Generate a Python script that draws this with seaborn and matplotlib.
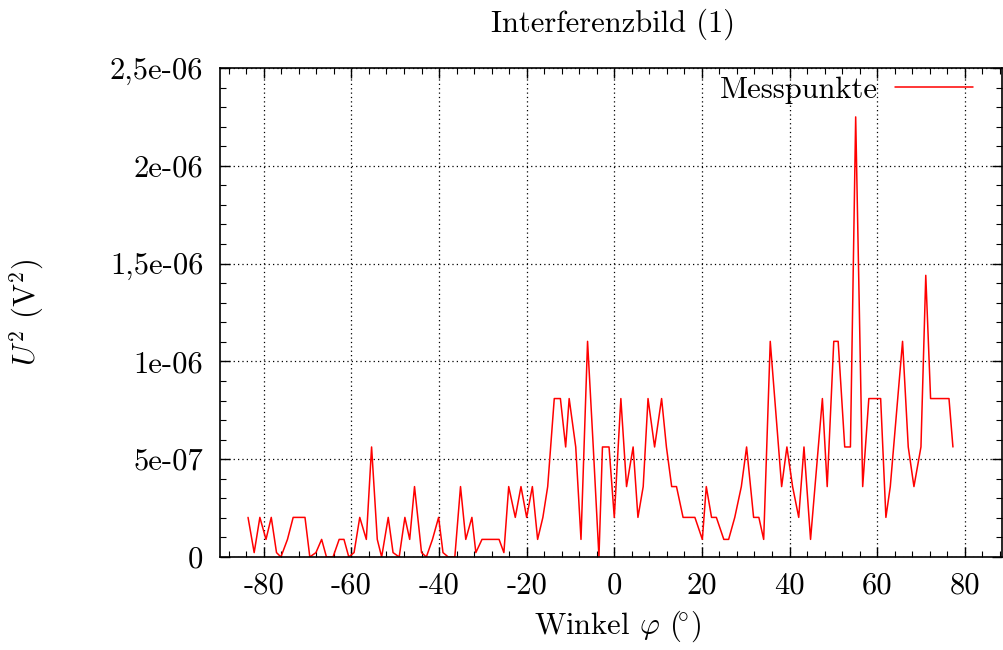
import matplotlib
matplotlib.use("Agg")
import matplotlib.pyplot as plt
import seaborn as sns
import pandas as pd
from matplotlib.ticker import MultipleLocator, FixedLocator, FixedFormatter

# ---------------- data ----------------
winkel = [-83.6, -82.2, -80.9, -79.5, -78.3, -77.1, -76.1, -74.6, -73.3, -71.9,
          -70.6, -69.5, -68.1, -66.8, -65.7, -64.2, -62.8, -61.7, -60.6, -59.4,
          -58.1, -56.6, -55.4, -54.1, -53.1, -51.6, -50.5, -49.1, -47.8, -46.7,
          -45.6, -44.0, -42.9, -41.5, -40.1, -39.1, -37.9, -36.4, -35.1, -33.9,
          -32.5, -31.6, -30.2, -28.9, -27.6, -26.3, -25.2, -24.1, -22.6, -21.3,
          -20.0, -18.7, -17.5, -16.3, -15.2, -13.7, -12.3, -11.1, -10.3, -8.8,
          -7.6, -6.1, -4.8, -3.5, -2.7, -1.2, 0.0, 1.5, 2.8, 4.3,
          5.4, 6.6, 7.7, 9.2, 10.8, 11.9, 13.1, 14.2, 15.7, 17.0,
          18.4, 20.1, 21.0, 22.2, 23.3, 25.0, 26.1, 27.5, 29.0, 30.2,
          31.8, 33.0, 34.1, 35.6, 38.2, 39.4, 40.7, 42.1, 43.3, 44.8,
          47.5, 48.6, 50.1, 51.1, 52.6, 53.9, 55.1, 56.7, 58.1, 59.5,
          60.8, 62.0, 63.0, 65.8, 67.1, 68.4, 70.0, 71.1, 72.2, 73.6,
          75.0, 76.4, 77.3]

u_quadrat = [2.025e-7, 0.225e-7, 2.025e-7, 0.9e-7, 2.025e-7, 0.225e-7, 0.0, 0.9e-7, 2.025e-7, 2.025e-7,
             2.025e-7, 0.0, 0.225e-7, 0.9e-7, 0.0, 0.0, 0.9e-7, 0.9e-7, 0.0, 0.225e-7,
             2.025e-7, 0.9e-7, 5.625e-7, 0.9e-7, 0.0, 2.025e-7, 0.225e-7, 0.0, 2.025e-7, 0.9e-7,
             3.6e-7, 0.225e-7, 0.0, 0.9e-7, 2.025e-7, 0.225e-7, 0.0, 0.0, 3.6e-7, 0.9e-7,
             2.025e-7, 0.225e-7, 0.9e-7, 0.9e-7, 0.9e-7, 0.9e-7, 0.225e-7, 3.6e-7, 2.025e-7, 3.6e-7,
             2.025e-7, 3.6e-7, 0.9e-7, 2.025e-7, 3.6e-7, 8.1e-7, 8.1e-7, 5.625e-7, 8.1e-7, 5.625e-7,
             0.9e-7, 1.1025e-6, 5.625e-7, 0.0, 5.625e-7, 5.625e-7, 2.025e-7, 8.1e-7, 3.6e-7, 5.625e-7,
             2.025e-7, 3.6e-7, 8.1e-7, 5.625e-7, 8.1e-7, 5.625e-7, 3.6e-7, 3.6e-7, 2.025e-7, 2.025e-7,
             2.025e-7, 0.9e-7, 3.6e-7, 2.025e-7, 2.025e-7, 0.9e-7, 0.9e-7, 2.025e-7, 3.6e-7, 5.625e-7,
             2.025e-7, 2.025e-7, 0.9e-7, 1.1025e-6, 3.6e-7, 5.625e-7, 3.6e-7, 2.025e-7, 5.625e-7, 0.9e-7,
             8.1e-7, 3.6e-7, 1.1025e-6, 1.1025e-6, 5.625e-7, 5.625e-7, 2.25e-6, 3.6e-7, 8.1e-7, 8.1e-7,
             8.1e-7, 2.025e-7, 3.6e-7, 1.1025e-6, 5.625e-7, 3.6e-7, 5.625e-7, 1.44e-6, 8.1e-7, 8.1e-7,
             8.1e-7, 8.1e-7, 5.625e-7]

x_ticks = [-80, -60, -40, -20, 0, 20, 40, 60, 80]
x_ticklabels = ["-80", "-60", "-40", "-20", "0", "20", "40", "60", "80"]
y_ticks = [0.0, 5e-7, 1e-6, 1.5e-6, 2e-6, 2.5e-6]
y_ticklabels = ["0", "5e-07", "1e-06", "1,5e-06", "2e-06", "2,5e-06"]

title = "Interferenzbild (1)"
series_name = "Messpunkte"

# ---------------- style ----------------
sns.set_style("ticks")
plt.rcParams["font.family"] = ["cmr10", "DejaVu Serif"]
plt.rcParams["mathtext.fontset"] = "cm"
plt.rcParams["axes.unicode_minus"] = False
plt.rcParams["axes.formatter.use_mathtext"] = True
plt.rcParams["text.color"] = "black"
plt.rcParams["axes.labelcolor"] = "black"
plt.rcParams["xtick.color"] = "black"
plt.rcParams["ytick.color"] = "black"

FS = 22

df = pd.DataFrame({"Winkel": winkel, "U2": u_quadrat})

fig = plt.figure(figsize=(10.04, 6.5), dpi=100)
ax = fig.add_axes([220 / 1004, 1 - 557 / 650, (1002 - 220) / 1004, (557 - 68) / 650])

sns.lineplot(data=df, x="Winkel", y="U2", ax=ax, color="#ff0000", linewidth=1.1,
             sort=False, estimator=None, label=series_name)

ax.set_xlim(-90, 88.5)
ax.set_ylim(0, 2.5e-6)

ax.xaxis.set_major_locator(FixedLocator(x_ticks))
ax.xaxis.set_major_formatter(FixedFormatter(x_ticklabels))
ax.xaxis.set_minor_locator(MultipleLocator(4))
ax.yaxis.set_major_locator(FixedLocator(y_ticks))
ax.yaxis.set_major_formatter(FixedFormatter(y_ticklabels))
ax.yaxis.set_minor_locator(MultipleLocator(1e-7))

ax.tick_params(which="both", direction="in", top=True, right=True, colors="black",
               labelcolor="black", labelsize=FS)
ax.tick_params(which="major", length=7, width=1.0)
ax.tick_params(which="minor", length=4, width=0.8)
ax.tick_params(axis="y", which="major", pad=12)
ax.tick_params(axis="x", which="major", pad=11)

for s in ax.spines.values():
    s.set_visible(True)
    s.set_linewidth(1.2)
    s.set_color("black")

ax.grid(True, which="major", color="black", linestyle=(0, (1, 2.5)), linewidth=0.9)
ax.set_axisbelow(True)

ax.set_xlabel(r"Winkel $\varphi$ $(\!{}^{\circ})$", fontsize=FS, color="black")
ax.xaxis.set_label_coords(0.509, -0.105)
ax.set_ylabel(r"$U^2$ (V$^2$)", fontsize=FS, color="black")
ax.yaxis.set_label_coords(-0.222, 0.5)

fig.text(613 / 1004, 1 - 24 / 650, title, fontsize=FS, ha="center", va="center",
         color="black")

leg = ax.legend(loc="center right", bbox_to_anchor=(973 / 1004, 1 - 90 / 650),
                bbox_transform=fig.transFigure, frameon=False, markerfirst=False,
                fontsize=FS, handlelength=2.55, handletextpad=0.55,
                borderpad=0, borderaxespad=0, labelcolor="black")

fig.savefig("out.png", dpi=100)
